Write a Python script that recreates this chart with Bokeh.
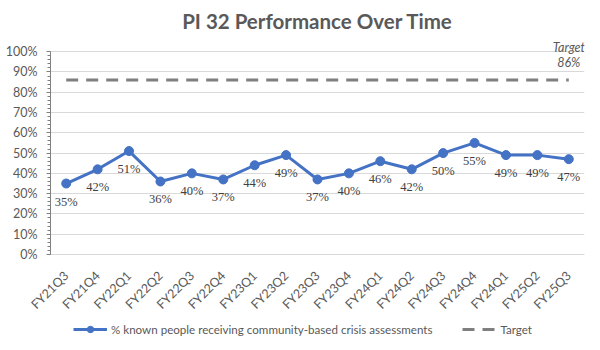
from bokeh.plotting import figure
from bokeh.layouts import column
from bokeh.models import (ColumnDataSource, LabelSet, Label, Legend, LegendItem,
                          NumeralTickFormatter, FixedTicker, Range1d)
from bokeh.embed import file_html
from bokeh.resources import INLINE
import math

quarters = ["FY21Q3", "FY21Q4", "FY22Q1", "FY22Q2", "FY22Q3", "FY22Q4", "FY23Q1",
            "FY23Q2", "FY23Q3", "FY23Q4", "FY24Q1", "FY24Q2", "FY24Q3", "FY24Q4",
            "FY24Q1", "FY25Q2", "FY25Q3"]
performance = [0.35, 0.42, 0.51, 0.36, 0.40, 0.37, 0.44, 0.49, 0.37, 0.40, 0.46,
               0.42, 0.50, 0.55, 0.49, 0.49, 0.47]
target = 0.86
series_name = "% known people receiving community-based crisis assessments"
target_name = "Target"

FONT = "Lato"
BLUE = "#4472C4"
GRAY = "#595959"
TGRAY = "#7f7f7f"

xs = list(range(len(quarters)))
src = ColumnDataSource(dict(x=xs, y=performance,
                            lbl=[f"{round(v*100)}%" for v in performance]))
tsrc = ColumnDataSource(dict(x=xs, y=[target] * len(xs)))

p = figure(width=600, height=320, output_backend="svg", toolbar_location=None,
           x_range=Range1d(-0.5, len(xs) - 0.5), y_range=Range1d(0, 1.06),
           min_border_left=50, min_border_right=16, min_border_top=20,
           min_border_bottom=56)

p.title.text = "PI 32 Performance Over Time"
p.title.align = "center"
p.title.offset = -17
p.title.standoff = 13
p.title.text_font = FONT
p.title.text_font_size = "20.5px"
p.title.text_color = GRAY
p.title.text_font_style = "bold"

p.outline_line_color = None
p.xgrid.grid_line_color = None
p.ygrid.grid_line_color = "#d9d9d9"
p.ygrid.ticker = FixedTicker(ticks=[i / 10 for i in range(11)])

p.yaxis.ticker = FixedTicker(ticks=[i / 10 for i in range(11)],
                             minor_ticks=[i / 50 for i in range(51)])
p.yaxis.bounds = (0, 1)
p.yaxis.formatter = NumeralTickFormatter(format="0%")
p.yaxis.axis_line_color = "#808080"
p.yaxis.major_tick_line_color = "#808080"
p.yaxis.minor_tick_line_color = "#808080"
p.yaxis.major_tick_out = 4
p.yaxis.major_tick_in = 0
p.yaxis.minor_tick_out = 3
p.yaxis.minor_tick_in = 0
p.yaxis.major_label_standoff = 9
p.yaxis.major_label_text_font = FONT
p.yaxis.major_label_text_font_size = "12.5px"
p.yaxis.major_label_text_color = GRAY

p.xaxis.ticker = FixedTicker(ticks=xs)
p.xaxis.major_label_overrides = {i: q for i, q in enumerate(quarters)}
p.xaxis.major_label_orientation = math.pi / 4
p.xaxis.axis_line_color = "#d9d9d9"
p.xaxis.major_tick_line_color = None
p.xaxis.minor_tick_line_color = None
p.xaxis.major_label_text_font = FONT
p.xaxis.major_label_text_font_size = "12.5px"
p.xaxis.major_label_text_color = GRAY
p.xaxis.major_label_standoff = 13

p.line("x", "y", source=tsrc, line_color=TGRAY, line_width=3, line_dash="12 8")
p.line("x", "y", source=src, line_color=BLUE, line_width=3)
p.scatter("x", "y", source=src, size=9, fill_color=BLUE, line_color=BLUE)

labels = LabelSet(x="x", y="y", text="lbl", source=src, y_offset=-18,
                  text_align="center", text_baseline="middle",
                  text_font=FONT, text_font_size="12.5px", text_color="#404040")
p.add_layout(labels)

p.add_layout(Label(x=len(xs) - 1, y=1.0, text="Target", y_offset=4,
                   text_align="center", text_baseline="middle", text_font=FONT,
                   text_font_size="12.5px", text_font_style="italic",
                   text_color=GRAY))
p.add_layout(Label(x=len(xs) - 1, y=1.0, text="86%", y_offset=-11,
                   text_align="center", text_baseline="middle", text_font=FONT,
                   text_font_size="12.5px", text_font_style="italic",
                   text_color=GRAY))

# Legend strip below the chart (its glyphs lie outside its visible range)
q = figure(width=600, height=30, output_backend="svg", toolbar_location=None,
           x_range=Range1d(1000, 1001), y_range=Range1d(1000, 1001),
           min_border=0)
q.axis.visible = False
q.grid.visible = False
q.outline_line_color = None
tl = q.line("x", "y", source=tsrc, line_color=TGRAY, line_width=3,
            line_dash="12 8")
ln = q.line("x", "y", source=src, line_color=BLUE, line_width=3)
mk = q.scatter("x", "y", source=src, size=9, fill_color=BLUE, line_color=BLUE)

legend = Legend(items=[LegendItem(label=series_name, renderers=[ln, mk]),
                       LegendItem(label=target_name, renderers=[tl])],
                orientation="horizontal", location=(23, 13),
                label_text_font=FONT, label_text_font_size="11.6px",
                label_text_color=GRAY, border_line_color=None,
                background_fill_alpha=0, glyph_height=16,
                glyph_width=34, spacing=30, label_standoff=4, padding=0,
                margin=0)
q.add_layout(legend)

open("out.html", "w").write(file_html(column(p, q, spacing=0), INLINE))
